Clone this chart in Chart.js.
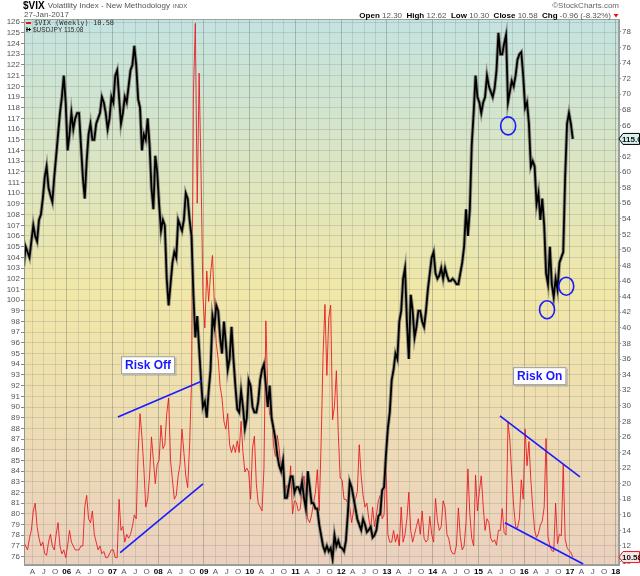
<!DOCTYPE html>
<html>
<head>
<meta charset="utf-8">
<script src="https://cdn.jsdelivr.net/npm/chart.js@4.4.1/dist/chart.umd.min.js"></script>
<style>
html, body { margin: 0; padding: 0; background: #fff; }
#wrap { width: 640px; height: 576px; position: relative; }
</style>
</head>
<body>
<div id="wrap"><canvas id="vixChart"></canvas></div>
<script>
// two readings per month (early / late), Jan..Dec
const firstYear = 2005;

const jpy2005 = [104.0, 103.2, 105.0, 104.5, 104.0, 105.5, 107.0, 106.0, 105.5, 107.5, 108.0, 109.5, 111.5, 112.5, 110.5, 109.8, 109.2, 111.5, 113.5, 115.5, 117.5, 119.0, 121.0, 118.5];
const jpy2006 = [114.0, 115.5, 117.5, 116.0, 117.0, 117.5, 117.5, 114.5, 111.5, 109.5, 113.0, 115.5, 116.5, 115.0, 115.0, 116.5, 117.0, 117.5, 119.0, 118.5, 117.5, 116.0, 117.0, 119.0];
const jpy2007 = [118.5, 121.0, 121.5, 119.0, 116.5, 117.5, 119.0, 118.5, 120.0, 121.5, 122.0, 123.8, 122.0, 118.8, 118.0, 114.0, 115.5, 115.0, 117.0, 114.5, 110.5, 108.5, 113.5, 112.0];
const jpy2008 = [109.0, 106.5, 107.5, 107.0, 102.0, 99.5, 101.5, 103.5, 104.5, 104.0, 107.5, 107.0, 106.5, 107.5, 110.0, 109.5, 107.5, 106.0, 100.5, 96.5, 98.5, 95.5, 92.5, 90.0];
const jpy2009 = [90.5, 89.0, 91.5, 93.5, 98.5, 97.5, 99.5, 99.0, 96.5, 95.0, 98.0, 96.0, 93.5, 94.5, 97.5, 94.5, 92.0, 89.8, 89.5, 91.5, 90.0, 88.0, 89.0, 92.5];
const jpy2010 = [92.0, 90.0, 89.5, 89.5, 90.5, 92.5, 93.5, 94.0, 92.0, 90.0, 92.0, 89.0, 88.0, 87.0, 85.5, 84.5, 84.0, 85.0, 81.5, 81.5, 82.5, 83.5, 83.5, 82.0];
const jpy2011 = [82.5, 82.5, 82.0, 83.0, 81.5, 80.5, 84.0, 82.5, 81.0, 81.0, 80.5, 80.5, 79.0, 78.0, 77.0, 76.5, 77.0, 76.5, 76.8, 75.8, 78.0, 77.0, 77.5, 76.9];
const jpy2012 = [76.8, 76.5, 77.5, 80.0, 83.0, 82.5, 81.5, 80.5, 79.5, 79.0, 78.5, 79.5, 79.0, 78.3, 78.5, 78.8, 77.8, 78.0, 78.5, 79.8, 80.0, 82.2, 82.5, 85.5];
const jpy2013 = [88.0, 89.5, 92.5, 93.5, 95.0, 94.5, 98.0, 99.0, 102.0, 103.0, 98.0, 94.5, 100.5, 99.0, 96.5, 97.5, 99.0, 99.0, 98.0, 97.5, 99.0, 101.0, 102.5, 104.0];
const jpy2014 = [104.5, 102.5, 102.0, 102.3, 103.0, 102.0, 103.0, 102.3, 101.8, 101.8, 102.0, 101.8, 101.5, 101.5, 102.5, 103.5, 105.0, 108.5, 106.0, 108.5, 114.5, 117.5, 121.0, 119.0];
const jpy2015 = [118.5, 117.5, 118.5, 119.0, 121.0, 120.0, 119.5, 119.0, 119.8, 121.5, 125.0, 123.0, 123.0, 124.0, 124.8, 118.5, 119.5, 120.5, 120.0, 121.0, 122.5, 123.0, 123.2, 121.0];
const jpy2016 = [118.0, 118.5, 116.5, 112.5, 113.0, 112.5, 109.0, 110.0, 107.5, 109.5, 107.0, 102.5, 101.5, 105.0, 101.5, 100.3, 102.0, 101.0, 103.5, 104.0, 104.5, 111.5, 116.5, 117.5];
const jpy2017 = [116.5, 115.08];

const vix2005 = [13.0, 12.5, 12.0, 11.5, 13.0, 14.0, 16.5, 17.5, 14.5, 13.0, 12.0, 12.5, 11.0, 10.8, 12.5, 13.5, 12.0, 11.5, 13.5, 15.0, 12.0, 11.0, 11.5, 10.5];
const vix2006 = [12.0, 14.0, 12.5, 12.0, 11.5, 11.5, 11.5, 12.0, 12.0, 17.0, 18.5, 15.5, 15.0, 16.5, 13.5, 12.5, 11.5, 12.0, 11.0, 11.3, 10.5, 10.5, 11.0, 11.5];
const vix2007 = [11.5, 10.5, 10.5, 18.0, 14.0, 14.5, 12.5, 13.5, 13.0, 13.5, 14.5, 16.0, 15.5, 24.0, 29.0, 26.0, 22.0, 17.0, 18.0, 21.0, 26.0, 23.0, 20.0, 22.5];
const vix2008 = [23.0, 27.5, 24.5, 25.0, 29.0, 31.0, 23.0, 20.5, 18.0, 18.5, 21.0, 22.5, 27.0, 24.0, 21.0, 19.5, 25.0, 33.0, 70.0, 79.1, 56.0, 72.7, 59.9, 44.0];
const vix2009 = [40.0, 47.3, 43.4, 47.0, 49.3, 43.0, 38.0, 36.0, 32.5, 31.0, 28.0, 27.0, 29.0, 25.0, 24.0, 25.0, 24.0, 25.5, 24.0, 28.0, 24.0, 21.5, 22.0, 21.5];
const vix2010 = [18.0, 24.6, 26.1, 20.0, 17.5, 17.0, 16.5, 22.0, 40.9, 32.0, 28.8, 29.5, 25.0, 23.5, 26.2, 24.5, 21.5, 22.5, 19.0, 19.8, 18.3, 22.3, 16.1, 17.8];
const vix2011 = [17.6, 16.5, 16.7, 19.2, 21.0, 18.0, 15.5, 15.0, 16.0, 17.5, 18.9, 21.8, 16.5, 25.3, 36.4, 43.0, 33.9, 41.3, 42.9, 28.2, 30.0, 34.5, 26.4, 20.7];
const vix2012 = [20.5, 18.0, 18.0, 17.5, 17.0, 15.0, 16.5, 18.0, 19.0, 25.0, 21.0, 18.5, 17.0, 17.5, 15.5, 14.0, 17.0, 14.5, 16.0, 17.8, 18.5, 15.5, 16.0, 22.7];
const vix2013 = [13.5, 12.5, 12.5, 14.0, 12.5, 13.5, 12.0, 17.0, 12.5, 13.5, 15.5, 18.9, 14.0, 12.5, 13.5, 14.5, 15.5, 13.5, 16.5, 13.0, 12.5, 12.8, 15.8, 13.5];
const vix2014 = [12.5, 18.1, 15.3, 14.0, 14.5, 17.8, 17.0, 13.5, 12.9, 11.5, 11.0, 11.0, 12.1, 16.9, 13.2, 11.5, 12.0, 15.0, 21.9, 16.1, 13.0, 12.0, 21.1, 16.5];
const vix2015 = [19.0, 21.0, 17.2, 14.0, 15.5, 15.0, 13.0, 12.5, 12.8, 12.1, 14.0, 14.0, 16.8, 13.7, 13.4, 28.0, 25.6, 21.1, 17.1, 14.5, 14.3, 15.5, 20.5, 18.0];
const vix2016 = [27.0, 22.3, 25.4, 20.5, 16.9, 14.0, 13.1, 13.6, 14.7, 15.2, 17.0, 25.8, 13.2, 12.0, 11.4, 11.3, 17.5, 12.3, 13.5, 13.3, 22.5, 12.9, 11.8, 11.4];
const vix2017 = [11.2, 10.58];

const jpyByYear = [jpy2005, jpy2006, jpy2007, jpy2008, jpy2009, jpy2010, jpy2011, jpy2012, jpy2013, jpy2014, jpy2015, jpy2016, jpy2017];
const vixByYear = [vix2005, vix2006, vix2007, vix2008, vix2009, vix2010, vix2011, vix2012, vix2013, vix2014, vix2015, vix2016, vix2017];

// axis windows
const xMin = 2005.068, xMax = 2018.073;
const jpyMin = 75.22, jpyMax = 126.3;
const vixMin = 9.56, vixMax = 79.65;
const monthLetters = ['', 'A', 'J', 'O'];

// annotations (drawn on the VIX axis)
const trendLines = [
    [2007.12, 28.56, 2008.96, 33.18],
    [2007.17, 11.14, 2008.98, 19.96],
    [2015.47, 28.70, 2017.22, 20.88],
    [2015.58, 14.99, 2017.29, 9.69]
];
const noteBoxes = [
    ['Risk Off', 2007.78, 35.2],
    ['Risk On', 2016.34, 33.8]
];
// circles on the USDJPY axis
const circleMarks = [
    [2015.65, 116.3],
    [2016.50, 99.1],
    [2016.92, 101.3]
];

function toPoints(byYear) {
    const pts = [];
    byYear.forEach((vals, yi) => {
        vals.forEach((v, i) => pts.push({ x: firstYear + yi + (i + 0.5) / 24, y: v }));
    });
    return pts;
}

function quarterOf(v) {
    return Math.round((v - Math.floor(v + 1e-6)) * 4) % 4;
}

const jpyPoints = toPoints(jpyByYear);
const vixPoints = toPoints(vixByYear);

const backdrop = {
    id: 'backdrop',
    beforeDraw(chart) {
        const { ctx, chartArea: a } = chart;
        ctx.save();
        ctx.fillStyle = '#fff';
        ctx.fillRect(0, 0, chart.width, chart.height);
        const g = ctx.createLinearGradient(0, a.top, 0, a.bottom);
        g.addColorStop(0, '#c3e3e1');
        g.addColorStop(0.5, '#f1e7a8');
        g.addColorStop(1, '#ebd1bf');
        ctx.fillStyle = g;
        ctx.fillRect(a.left, a.top, a.right - a.left, a.bottom - a.top);
        ctx.restore();
    }
};

function drawTag(ctx, x, y, text, stroke, fill) {
    ctx.beginPath();
    ctx.moveTo(x, y);
    ctx.lineTo(x + 4, y - 5.5);
    ctx.lineTo(639.5, y - 5.5);
    ctx.lineTo(639.5, y + 5.5);
    ctx.lineTo(x + 4, y + 5.5);
    ctx.closePath();
    ctx.fillStyle = fill;
    ctx.fill();
    ctx.strokeStyle = stroke;
    ctx.lineWidth = 1;
    ctx.stroke();
    ctx.fillStyle = '#111';
    ctx.font = 'bold 8px Arial';
    ctx.textAlign = 'left';
    ctx.textBaseline = 'middle';
    ctx.fillText(text, x + 3, y + 0.5);
}

const overlays = {
    id: 'overlays',
    afterDraw(chart) {
        const { ctx, chartArea: a } = chart;
        const sx = chart.scales.x, sj = chart.scales.y, sv = chart.scales.y1;
        ctx.save();

        // plot frame
        ctx.strokeStyle = 'rgba(140,150,140,0.8)';
        ctx.lineWidth = 1;
        ctx.strokeRect(a.left + 0.5, a.top + 0.5, a.right - a.left - 1, a.bottom - a.top - 1);

        // trend lines and circles
        ctx.beginPath();
        ctx.rect(a.left, a.top, a.right - a.left, a.bottom - a.top);
        ctx.clip();
        ctx.strokeStyle = '#1a1aff';
        ctx.lineWidth = 1.6;
        trendLines.forEach(l => {
            ctx.beginPath();
            ctx.moveTo(sx.getPixelForValue(l[0]), sv.getPixelForValue(l[1]));
            ctx.lineTo(sx.getPixelForValue(l[2]), sv.getPixelForValue(l[3]));
            ctx.stroke();
        });
        circleMarks.forEach(c => {
            ctx.beginPath();
            ctx.ellipse(sx.getPixelForValue(c[0]), sj.getPixelForValue(c[1]), 7.5, 9, 0, 0, Math.PI * 2);
            ctx.stroke();
        });
        ctx.restore();
        ctx.save();

        // note boxes
        ctx.font = 'bold 12px Arial';
        ctx.textAlign = 'center';
        ctx.textBaseline = 'middle';
        noteBoxes.forEach(n => {
            const cx = sx.getPixelForValue(n[1]), cy = sv.getPixelForValue(n[2]);
            const w = ctx.measureText(n[0]).width + 8;
            ctx.fillStyle = 'rgba(120,120,120,0.35)';
            ctx.fillRect(cx - w / 2 + 1.5, cy - 9 + 1.5, w, 18);
            ctx.fillStyle = '#fff';
            ctx.fillRect(cx - w / 2, cy - 9, w, 18);
            ctx.strokeStyle = '#999';
            ctx.lineWidth = 1;
            ctx.strokeRect(cx - w / 2 + 0.5, cy - 8.5, w - 1, 17);
            ctx.fillStyle = '#1a1aff';
            ctx.fillText(n[0], cx, cy + 0.5);
        });

        // legend inside plot
        ctx.textAlign = 'left';
        ctx.strokeStyle = '#e8141c';
        ctx.lineWidth = 2;
        ctx.beginPath();
        ctx.moveTo(a.left + 2, a.top + 4);
        ctx.lineTo(a.left + 7, a.top + 4);
        ctx.stroke();
        ctx.fillStyle = '#333';
        ctx.font = '7px "DejaVu Sans Mono"';
        ctx.fillText('$VIX (Weekly) 10.58', a.left + 10, a.top + 4.5);
        ctx.strokeStyle = '#000';
        ctx.lineWidth = 1;
        ctx.beginPath();
        ctx.moveTo(a.left + 3, a.top + 8); ctx.lineTo(a.left + 3, a.top + 13);
        ctx.moveTo(a.left + 5.5, a.top + 9); ctx.lineTo(a.left + 5.5, a.top + 12);
        ctx.moveTo(a.left + 2, a.top + 10.5); ctx.lineTo(a.left + 7, a.top + 10.5);
        ctx.stroke();
        ctx.font = '6.5px Arial';
        ctx.fillText('$USDJPY 115.08', a.left + 9, a.top + 11);

        // last value tags
        const lastJpy = jpyPoints[jpyPoints.length - 1].y;
        const lastVix = vixPoints[vixPoints.length - 1].y;
        drawTag(ctx, a.right, sj.getPixelForValue(lastJpy), lastJpy.toFixed(2), '#000', '#d8f0ee');
        drawTag(ctx, a.right, sv.getPixelForValue(lastVix), lastVix.toFixed(2), '#e8141c', '#f6e8e8');

        // header
        ctx.textBaseline = 'middle';
        ctx.fillStyle = '#000';
        ctx.font = 'bold 10px Arial';
        ctx.fillText('$VIX', 23, 6);
        let hx = 23 + ctx.measureText('$VIX').width + 3;
        ctx.fillStyle = '#555';
        ctx.font = '8px Arial';
        ctx.fillText('Volatility Index - New Methodology', hx, 6);
        hx += ctx.measureText('Volatility Index - New Methodology').width + 3;
        ctx.font = '6px Arial';
        ctx.fillText('INDX', hx, 6.5);
        ctx.font = '8px Arial';
        ctx.fillText('27-Jan-2017', 24, 15);

        ctx.textAlign = 'right';
        ctx.fillStyle = '#666';
        ctx.fillText('\u00a9StockCharts.com', 619, 6);

        const parts = [['Open', 1], [' 12.30  ', 0], ['High', 1], [' 12.62  ', 0], ['Low', 1], [' 10.30  ', 0],
            ['Close', 1], [' 10.58  ', 0], ['Chg', 1], [' -0.96 (-8.32%)', 0]];
        ctx.textAlign = 'left';
        let total = 0;
        parts.forEach(p => {
            ctx.font = p[1] ? 'bold 8px Arial' : '8px Arial';
            total += ctx.measureText(p[0]).width;
        });
        let px = 611 - total;
        parts.forEach(p => {
            ctx.font = p[1] ? 'bold 8px Arial' : '8px Arial';
            ctx.fillStyle = p[1] ? '#000' : '#555';
            ctx.fillText(p[0], px, 15.5);
            px += ctx.measureText(p[0]).width;
        });
        ctx.fillStyle = '#e8141c';
        ctx.beginPath();
        ctx.moveTo(px + 2.5, 14); ctx.lineTo(px + 7.5, 14); ctx.lineTo(px + 5, 17.5);
        ctx.closePath();
        ctx.fill();
        ctx.restore();
    }
};

const ctx = document.getElementById('vixChart');
new Chart(ctx, {
    type: 'line',
    data: {
        datasets: [{
            label: '$USDJPY',
            data: jpyPoints,
            yAxisID: 'y',
            borderColor: '#000',
            borderWidth: 1.8,
            pointRadius: 0,
            tension: 0,
            order: 0
        }, {
            label: '$USDJPY range',
            data: jpyPoints,
            yAxisID: 'y',
            borderColor: 'rgba(128,128,118,0.8)',
            borderWidth: 3.6,
            pointRadius: 0,
            tension: 0,
            order: 1
        }, {
            label: '$VIX (Weekly)',
            data: vixPoints,
            yAxisID: 'y1',
            borderColor: 'rgba(232,20,28,0.85)',
            borderWidth: 1,
            pointRadius: 0,
            tension: 0,
            order: 2
        }]
    },
    options: {
        responsive: true,
        maintainAspectRatio: false,
        animation: false,
        layout: { padding: { top: 19, left: 0, right: 0, bottom: 0 } },
        plugins: { legend: { display: false }, tooltip: { enabled: false } },
        scales: {
            x: {
                type: 'linear',
                min: xMin,
                max: xMax,
                afterFit(scale) { scale.height = 11; },
                border: { color: '#999' },
                grid: {
                    drawTicks: false,
                    color: c => (c.tick && quarterOf(c.tick.value) === 0) ? 'rgba(110,120,105,0.42)' : 'rgba(110,120,105,0.2)'
                },
                ticks: {
                    stepSize: 0.25,
                    includeBounds: false,
                    autoSkip: false,
                    maxRotation: 0,
                    padding: 2,
                    color: c => (c.tick && quarterOf(c.tick.value) === 0) ? '#000' : '#555',
                    font: c => ({ family: 'Arial', size: 8, weight: (c.tick && quarterOf(c.tick.value) === 0) ? 'bold' : 'normal' }),
                    callback: v => {
                        const q = quarterOf(v);
                        return q === 0 ? String(Math.round(v) % 100).padStart(2, '0') : monthLetters[q];
                    }
                }
            },
            y: {
                position: 'left',
                min: jpyMin,
                max: jpyMax,
                afterFit(scale) { scale.width = 24; },
                border: { color: '#999' },
                grid: { color: 'rgba(110,120,105,0.22)', tickLength: 3, tickColor: '#888' },
                ticks: { stepSize: 1, includeBounds: false, autoSkip: false, padding: 1, color: '#555', font: { family: 'Arial', size: 8 } }
            },
            y1: {
                position: 'right',
                min: vixMin,
                max: vixMax,
                afterFit(scale) { scale.width = 21; },
                border: { color: '#99a', dash: [1, 1] },
                grid: { drawOnChartArea: false, tickLength: 2, tickColor: '#999' },
                ticks: { stepSize: 2, includeBounds: false, autoSkip: false, padding: 1, color: '#555', font: { family: 'Arial', size: 8 } }
            }
        }
    },
    plugins: [backdrop, overlays]
});
</script>
</body>
</html>
